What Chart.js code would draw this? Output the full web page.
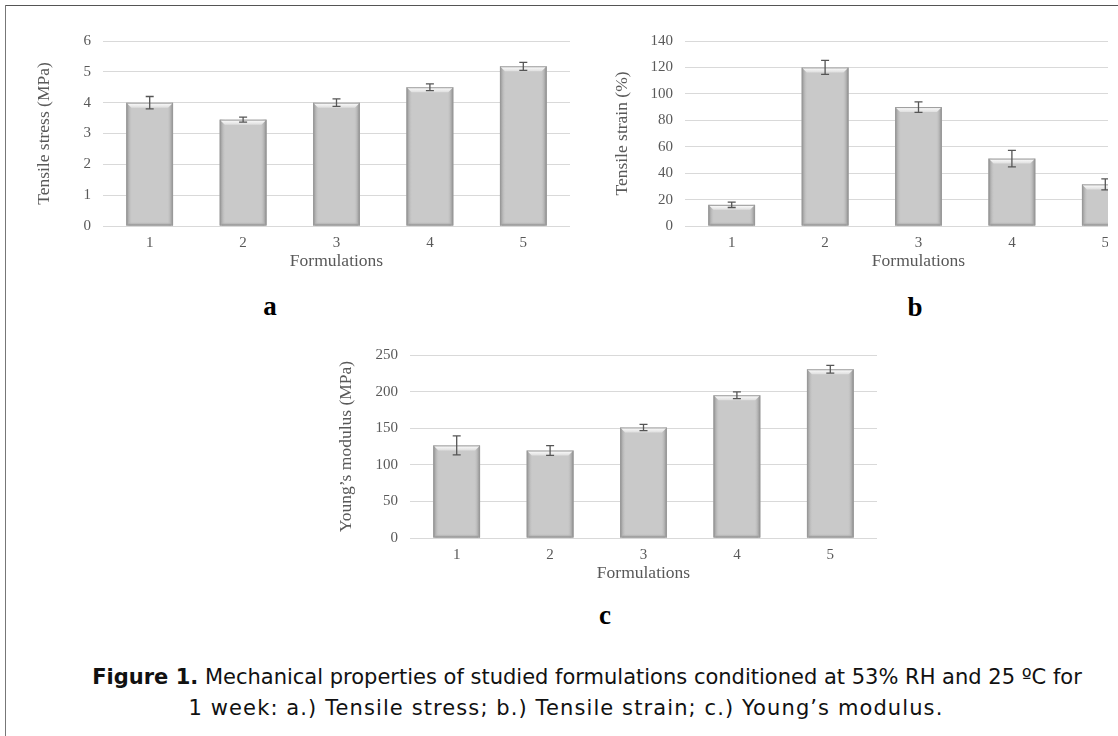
<!DOCTYPE html>
<html>
<head>
<meta charset="utf-8">
<script src="https://cdn.jsdelivr.net/npm/chart.js@4.4.0/dist/chart.umd.min.js"></script>
<style>
body { margin: 0; background: #fff; width: 1118px; height: 736px; overflow: hidden; position: relative; }
.frame-top { position: absolute; left: 5px; top: 5px; right: 0; border-top: 1px solid #555; }
.frame-left { position: absolute; left: 5px; top: 5px; bottom: 0; border-left: 1px solid #777; }
.panel { position: absolute; }
.letter { position: absolute; font-family: "Liberation Serif", serif; font-weight: bold; font-size: 27px; line-height: 1; color: #000; transform: translate(-50%, -50%); }
.caption { position: absolute; width: 1100px; text-align: center; font-family: "DejaVu Sans", sans-serif; font-size: 21px; line-height: 32px; color: #111; white-space: nowrap; }
</style>
</head>
<body>
<div class="frame-top"></div>
<div class="frame-left"></div>

<div class="panel" style="left:20px; top:20px; width:560px; height:252px;"><canvas id="chartA"></canvas></div>
<div class="panel" style="left:600px; top:20px; width:508px; height:252px; overflow:hidden;">
  <div style="position:relative; width:560px; height:252px;"><canvas id="chartB"></canvas></div>
</div>
<div class="panel" style="left:320px; top:334px; width:570px; height:250px;"><canvas id="chartC"></canvas></div>

<div class="letter" style="left:270px; top:306px;">a</div>
<div class="letter" style="left:915px; top:307px;">b</div>
<div class="letter" style="left:605px; top:615px;">c</div>

<div class="caption" style="top:661px; left:37px;"><b>Figure 1.</b> Mechanical properties of studied formulations conditioned at 53% RH and 25 ºC for</div>
<div class="caption" style="top:692px; left:16px; letter-spacing:1.1px;">1 week: a.) Tensile stress; b.) Tensile strain; c.) Young’s modulus.</div>

<script>
const formulations = ['1', '2', '3', '4', '5'];

const tensileStress = [4.0, 3.45, 4.0, 4.5, 5.18];
const tensileStressErr = [0.2, 0.08, 0.12, 0.11, 0.13];

const tensileStrain = [16, 120, 90, 51, 31.5];
const tensileStrainErr = [2, 5.3, 4, 6.2, 4.2];

const youngsModulus = [126.5, 119.5, 151, 195, 230.5];
const youngsModulusErr = [13, 6.6, 4.3, 4.5, 5.3];

const textGray = '#595959';
const serif = '"Liberation Serif", "Times New Roman", serif';

// bevelled bars + error bars, positions taken from the chart's own elements/scales
const barDecor = {
    id: 'barDecor',
    afterDatasetsDraw(chart, args, opts) {
        const ctx = chart.ctx;
        const meta = chart.getDatasetMeta(0);
        const yScale = chart.scales.y;
        const values = chart.data.datasets[0].data;
        const errs = opts.errors || [];

        meta.data.forEach((bar) => {
            const p = bar.getProps(['x', 'y', 'base', 'width'], true);
            const l = p.x - p.width / 2, r = p.x + p.width / 2;
            const t = p.y, b = p.base;
            ctx.save();
            let g = ctx.createLinearGradient(l, 0, l + 6, 0);
            g.addColorStop(0, '#8c8c8c');
            g.addColorStop(1, 'rgba(201,201,201,0)');
            ctx.fillStyle = g;
            ctx.fillRect(l, t, 6, b - t);
            g = ctx.createLinearGradient(r - 6, 0, r, 0);
            g.addColorStop(0, 'rgba(201,201,201,0)');
            g.addColorStop(1, '#878787');
            ctx.fillStyle = g;
            ctx.fillRect(r - 6, t, 6, b - t);
            g = ctx.createLinearGradient(0, b - 4, 0, b);
            g.addColorStop(0, 'rgba(201,201,201,0)');
            g.addColorStop(1, '#8f8f8f');
            ctx.fillStyle = g;
            ctx.fillRect(l + 2, b - 4, r - l - 4, 4);
            ctx.beginPath();
            ctx.moveTo(l, t);
            ctx.lineTo(r, t);
            ctx.lineTo(r - 5, t + 5);
            ctx.lineTo(l + 5, t + 5);
            ctx.closePath();
            g = ctx.createLinearGradient(0, t, 0, t + 5);
            g.addColorStop(0, '#ffffff');
            g.addColorStop(1, '#dedede');
            ctx.fillStyle = g;
            ctx.fill();
            ctx.strokeStyle = '#9a9a9a';
            ctx.lineWidth = 1;
            ctx.strokeRect(l + 0.5, t + 0.5, r - l - 1, b - t - 1);
            ctx.restore();
        });

        ctx.save();
        ctx.strokeStyle = '#555';
        ctx.lineWidth = 1.3;
        meta.data.forEach((bar, i) => {
            const e = errs[i];
            if (e == null) return;
            const hi = yScale.getPixelForValue(values[i] + e);
            const lo = yScale.getPixelForValue(values[i] - e);
            const x = bar.x;
            ctx.beginPath();
            ctx.moveTo(x, hi); ctx.lineTo(x, lo);
            ctx.moveTo(x - 4, hi); ctx.lineTo(x + 4, hi);
            ctx.moveTo(x - 4, lo); ctx.lineTo(x + 4, lo);
            ctx.stroke();
        });
        ctx.restore();
    }
};

function createBarChart(id, values, errors, yTitle, yMax, yStep, axisWidth, titlePad, padRight) {
    new Chart(document.getElementById(id), {
        type: 'bar',
        data: {
            labels: formulations,
            datasets: [{
                data: values,
                backgroundColor: '#c9c9c9',
                borderWidth: 0,
                categoryPercentage: 1,
                barPercentage: 0.5
            }]
        },
        options: {
            responsive: true,
            maintainAspectRatio: false,
            animation: false,
            layout: { padding: { top: 15, right: padRight, bottom: 0, left: 0 } },
            plugins: {
                legend: { display: false },
                tooltip: { enabled: false },
                barDecor: { errors: errors }
            },
            scales: {
                x: {
                    grid: { display: false },
                    border: { display: false },
                    ticks: { color: textGray, font: { family: serif, size: 15 }, padding: 0 },
                    title: { display: true, text: 'Formulations', color: textGray, font: { family: serif, size: 17.5 }, padding: 0 },
                    afterFit: (s) => { s.height = 46; }
                },
                y: {
                    min: 0,
                    max: yMax,
                    grid: { color: '#d9d9d9', drawTicks: false },
                    border: { display: false },
                    ticks: { stepSize: yStep, color: textGray, font: { family: serif, size: 15 }, padding: 12 },
                    title: { display: true, text: yTitle, color: textGray, font: { family: serif, size: 17.5 }, padding: { top: titlePad, bottom: 0 } },
                    afterFit: (s) => { s.width = axisWidth; }
                }
            }
        },
        plugins: [barDecor]
    });
}

createBarChart('chartA', tensileStress, tensileStressErr, 'Tensile stress (MPa)', 6, 1, 83, 14, 10);
createBarChart('chartB', tensileStrain, tensileStrainErr, 'Tensile strain (%)', 140, 20, 85, 12, 8);
createBarChart('chartC', youngsModulus, youngsModulusErr, 'Young’s modulus (MPa)', 250, 50, 90, 16, 13);
</script>
</body>
</html>
